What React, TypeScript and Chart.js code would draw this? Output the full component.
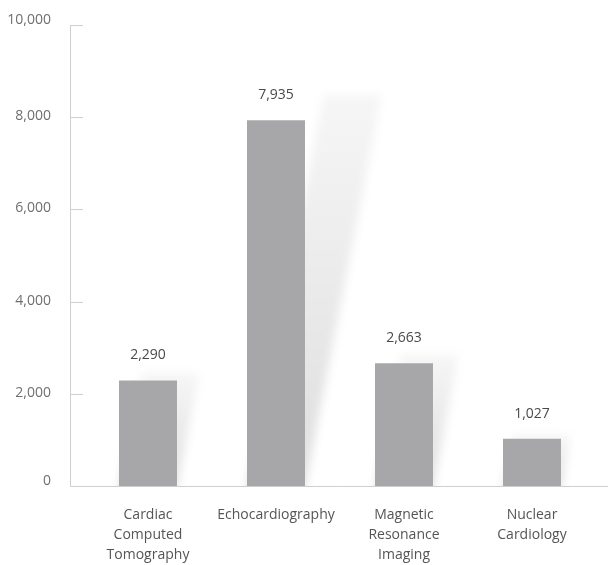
import React, { useEffect, useRef } from "react";
import { Chart, registerables } from "chart.js";

Chart.register(...registerables);

const categories: string[][] = [
  ["Cardiac", "Computed", "Tomography"],
  ["Echocardiography"],
  ["Magnetic", "Resonance", "Imaging"],
  ["Nuclear", "Cardiology"],
];
const values: number[] = [2290, 7935, 2663, 1027];
const yTicks: number[] = [0, 2000, 4000, 6000, 8000, 10000];

const FONT = "'Open Sans', 'Noto Sans', sans-serif";

const decorPlugin = {
  id: "decor",
  beforeDatasetsDraw(chart: any) {
    const { ctx, chartArea, scales } = chart;
    const meta = chart.getDatasetMeta(0);
    // bar shadows (sheared, blurred copy of each bar)
    meta.data.forEach((bar: any) => {
      const props = bar.getProps(["x", "y", "base", "width"], true);
      const left = props.x - props.width / 2;
      const bottom = props.base;
      const h = bottom - props.y;
      ctx.save();
      ctx.beginPath();
      ctx.rect(chartArea.left, 0, chart.width, chartArea.bottom);
      ctx.clip();
      ctx.filter = "blur(5px)";
      ctx.translate(left, bottom);
      ctx.transform(1, 0, -0.21, 1.07, 0, 0);
      const g = ctx.createLinearGradient(0, 0, 0, -h);
      g.addColorStop(0, "rgba(0,0,0,0.13)");
      g.addColorStop(1, "rgba(0,0,0,0.035)");
      ctx.fillStyle = g;
      ctx.fillRect(0, -h, props.width, h + 6);
      ctx.restore();
    });
    // axes
    const axisX = chartArea.left - 14;
    ctx.save();
    ctx.strokeStyle = "#cfcfcf";
    ctx.lineWidth = 1;
    ctx.beginPath();
    ctx.moveTo(axisX + 0.5, scales.y.getPixelForValue(10000));
    ctx.lineTo(axisX + 0.5, chartArea.bottom + 0.5);
    ctx.lineTo(chart.width, chartArea.bottom + 0.5);
    ctx.stroke();
    ctx.fillStyle = "#6f6f6f";
    ctx.font = `14px ${FONT}`;
    ctx.textAlign = "right";
    ctx.textBaseline = "middle";
    yTicks.forEach((t, i) => {
      const py = Math.round(scales.y.getPixelForValue(t)) + 0.5;
      const end = i === 0 || i === yTicks.length - 1;
      ctx.fillText(t.toLocaleString("en-US"), axisX - 19, py + (end ? -5 : -1));
      if (t === 0) return;
      ctx.beginPath();
      ctx.moveTo(axisX, py);
      ctx.lineTo(axisX + 13, py);
      ctx.stroke();
    });
    ctx.restore();
  },
  afterDatasetsDraw(chart: any) {
    const { ctx } = chart;
    const meta = chart.getDatasetMeta(0);
    ctx.save();
    ctx.fillStyle = "#4a4a4a";
    ctx.font = `14px ${FONT}`;
    ctx.textAlign = "center";
    ctx.textBaseline = "middle";
    meta.data.forEach((bar: any, i: number) => {
      ctx.fillText(values[i].toLocaleString("en-US"), bar.x, bar.y - 25);
    });
    ctx.restore();
  },
};

export default function App() {
  const ref = useRef<HTMLCanvasElement>(null);
  useEffect(() => {
    document.body.style.margin = "0";
    const chart = new Chart(ref.current!, {
      type: "bar",
      data: {
        labels: categories,
        datasets: [
          {
            data: values,
            backgroundColor: "#a7a7aa",
            barPercentage: 0.453,
            categoryPercentage: 1,
          },
        ],
      },
      options: {
        animation: false,
        responsive: false,
        maintainAspectRatio: false,
        layout: { padding: { left: 0, right: 12, top: 25, bottom: 0 } },
        plugins: { legend: { display: false }, tooltip: { enabled: false } },
        scales: {
          x: {
            grid: { display: false },
            border: { display: false },
            ticks: {
              color: "#555555",
              font: { family: FONT, size: 14, lineHeight: 1.43 },
              padding: 11,
              maxRotation: 0,
              autoSkip: false,
            },
            afterFit: (s: any) => {
              s.height = 79;
            },
          },
          y: {
            min: 0,
            max: 10000,
            afterBuildTicks: (s: any) => {
              s.ticks = yTicks.map((v) => ({ value: v }));
            },
            grid: { display: false },
            border: { display: false },
            ticks: { display: false },
            afterFit: (s: any) => {
              s.width = 84;
              s.paddingTop = 0;
              s.paddingBottom = 0;
            },
          },
        },
      },
      plugins: [decorPlugin],
    });
    return () => chart.destroy();
  }, []);
  return (
    <div style={{ position: "absolute", left: 0, top: 0, width: 608, height: 565 }}>
      <canvas ref={ref} width={608} height={565} style={{ width: 608, height: 565 }} />
    </div>
  );
}
